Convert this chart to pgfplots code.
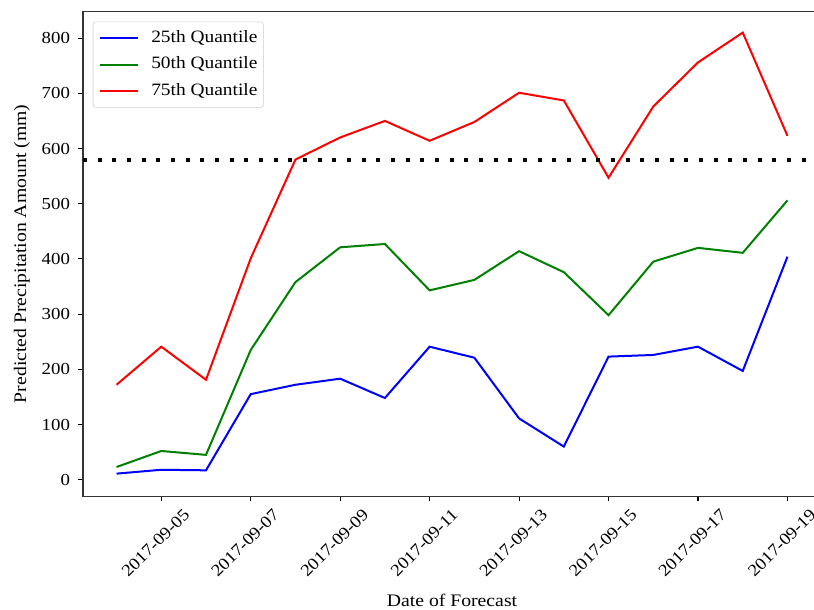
\documentclass[border=0pt]{standalone}
\usepackage{fontspec}
\setmainfont{Liberation Serif}[FakeStretch=1.12]
\usepackage{pgfplots}
\pgfplotsset{compat=1.18}

\definecolor{mplblue}{rgb}{0,0,1}
\definecolor{mplgreen}{rgb}{0,0.5,0}
\definecolor{mplred}{rgb}{1,0,0}

\begin{document}
\begin{tikzpicture}
\begin{axis}[
  scale only axis,
  width=553.5pt, height=363.5pt,
  xmin=3.25, xmax=19.75,
  ymin=-30, ymax=848,
  axis line style={black!80, line width=0.8pt},
  tick align=outside,
  xtick pos=bottom, ytick pos=left,
  major tick length=3.75pt,
  tick style={black, line width=0.8pt},
  tick label style={font=\fontsize{12.6}{14}\selectfont},
  label style={font=\fontsize{13.2}{15}\selectfont},
  /pgf/number format/assume math mode=true,
  ytick={0,100,...,800},
  yticklabel style={xshift=-2.5pt},
  xtick={5,7,9,11,13,15,17,19},
  xticklabels={2017-09-05,2017-09-07,2017-09-09,2017-09-11,2017-09-13,2017-09-15,2017-09-17,2017-09-19},
  xticklabel style={xshift=16pt, rotate=45, anchor=north east},
  xlabel={Date of Forecast},
  ylabel={Predicted Precipitation Amount (mm)},
  xlabel style={at={(axis description cs:0.5,-0.214)}, anchor=center},
  ylabel style={at={(axis description cs:-0.0827,0.5)}, anchor=center},
  legend style={at={(axis description cs:0,1)}, anchor=north west,
    xshift=7.3pt, yshift=-7.5pt, draw=black!20, rounded corners=2pt,
    fill=white, fill opacity=0.8, text opacity=1,
    inner sep=2.5pt, row sep=0pt,
    font=\fontsize{13}{15}\selectfont,
    nodes={inner sep=2pt, text height=11pt, text depth=4.7pt, anchor=west}},
  legend cell align=left,
  legend image code/.code={%
    \path (-1.7pt,0pt) (36pt,0pt);
    \draw[#1, line width=1.5pt] (0pt,0pt) -- (29pt,0pt);},
]
\addplot[mplblue, line width=1.5pt] coordinates {
  (4,11) (5,18) (6,17) (7,155) (8,172) (9,183) (10,148) (11,241)
  (12,221) (13,111) (14,60) (15,223) (16,226) (17,241) (18,197) (19,404)};
\addlegendentry{25th Quantile}
\addplot[mplgreen, line width=1.5pt] coordinates {
  (4,23) (5,52) (6,45) (7,235) (8,358) (9,421) (10,427) (11,343)
  (12,362) (13,414) (14,376) (15,298) (16,395) (17,420) (18,411) (19,506)};
\addlegendentry{50th Quantile}
\addplot[mplred, line width=1.5pt] coordinates {
  (4,172) (5,241) (6,181) (7,401) (8,580) (9,620) (10,650) (11,614)
  (12,648) (13,701) (14,687) (15,547) (16,676) (17,756) (18,810) (19,623)};
\addlegendentry{75th Quantile}
% threshold level
\addplot[black, line width=3pt, line cap=butt, dash pattern=on 3pt off 8pt, forget plot]
  coordinates {(3.25,580) (19.75,580)};
\end{axis}
\pgfresetboundingbox
\useasboundingbox (-62.25pt,-85.3pt) rectangle (548.25pt,372.2pt);
\end{tikzpicture}
\end{document}
